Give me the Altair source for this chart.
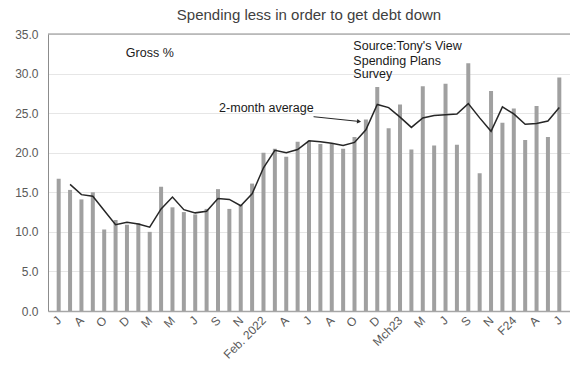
import json
import altair as alt
import pandas as pd

# ---- data ----
x_labels = ["J", "A", "O", "D", "M", "M", "J", "S", "N", "Feb. 2022", "A", "J",
            "A", "O", "D", "Mch23", "M", "J", "S", "N", "F24", "A", "J"]

gross = [16.7, 15.3, 14.1, 15.0, 10.3, 11.5, 10.9, 11.1, 10.0, 15.7,
         13.1, 12.5, 12.2, 12.9, 15.4, 12.9, 13.4, 16.1, 20.0, 20.5,
         19.5, 21.4, 21.5, 21.1, 21.2, 20.5, 22.0, 24.2, 28.3, 23.1,
         26.1, 20.4, 28.4, 20.9, 28.7, 21.0, 31.3, 17.4, 27.8, 23.8,
         25.6, 21.6, 25.9, 22.0, 29.5]

avg2 = [16.0, 14.7, 14.5, 12.7, 10.9, 11.2, 11.0, 10.6, 12.9, 14.4,
        12.8, 12.4, 12.6, 14.2, 14.1, 13.3, 14.8, 18.1, 20.3, 20.0,
        20.4, 21.5, 21.4, 21.2, 20.9, 21.3, 22.9, 26.1, 25.7, 24.5,
        23.2, 24.4, 24.7, 24.8, 24.9, 26.2, 24.4, 22.7, 25.8, 24.9,
        23.6, 23.7, 24.0, 25.7]

y_ticks = [0, 5, 10, 15, 20, 25, 30, 35]

note_text = ["Gross %", "Source:Tony's View", "Spending  Plans", "Survey", "2-month average"]
note_x = [5.9, 25.9, 25.9, 25.9, 14.1]
note_y = [32.6, 33.5, 31.6, 29.9, 25.6]

arrow_x = [22.4, 26.4]
arrow_y = [24.55, 23.95]

# ---- tables ----
bar_df = pd.DataFrame({"i": list(range(len(gross))), "v": gross})
line_df = pd.DataFrame({"i": list(range(1, len(avg2) + 1)), "v": avg2})
note_df = pd.DataFrame({"i": note_x, "v": note_y, "t": note_text})
arrow_df = pd.DataFrame({"i": arrow_x, "v": arrow_y})
head_df = pd.DataFrame({"i": [arrow_x[1]], "v": [arrow_y[1]]})
top_df = pd.DataFrame({"v": [35]})

FONT = "Liberation Sans"
xs = alt.Scale(domain=[-0.5, len(gross) - 0.5], nice=False, zero=False)
ys = alt.Scale(domain=[0, 35], nice=False)

label_expr = json.dumps(x_labels) + "[round(datum.value / 2)]"

x_axis = alt.Axis(values=list(range(0, len(gross), 2)), labelExpr=label_expr,
                  title=None, grid=False, ticks=False, domainColor="#a6a6a6",
                  domainWidth=1.5, labelAngle=-45, labelAlign="right",
                  labelBaseline="middle", labelFontSize=12, labelColor="#595959",
                  labelPadding=7, labelFont=FONT, labelOverlap=False)
y_axis = alt.Axis(values=y_ticks, format=".1f", title=None, ticks=False,
                  gridColor="#e6e6e6", domainColor="#8c8c8c", labelPadding=10,
                  labelFontSize=12, labelColor="#595959", labelFont=FONT,
                  labelOverlap=False)

X = lambda: alt.X("i:Q", scale=xs, axis=x_axis)
Y = lambda: alt.Y("v:Q", scale=ys, axis=y_axis)

bars = alt.Chart(bar_df).mark_bar(size=4, color="#a0a0a0").encode(x=X(), y=Y())

line = alt.Chart(line_df).mark_line(color="#262626", strokeWidth=1.5).encode(x=X(), y=Y())

top_rule = alt.Chart(top_df).mark_rule(color="#8c8c8c", strokeWidth=1).encode(y=Y())

notes = alt.Chart(note_df).mark_text(align="left", baseline="middle", font=FONT,
                                     fontSize=12.5, color="#1a1a1a").encode(
    x=X(), y=Y(), text="t:N"
)

arrow = alt.Chart(arrow_df).mark_line(color="#262626", strokeWidth=1).encode(x=X(), y=Y())
head = alt.Chart(head_df).mark_point(shape="triangle-right", filled=True, angle=6,
                                     size=22, color="#262626", opacity=1).encode(x=X(), y=Y())

chart = alt.layer(bars, top_rule, line, arrow, head, notes).properties(
    width=522, height=277,
    padding={"left": 48, "top": 34, "right": 0, "bottom": 58},
    autosize="none",
    title=alt.TitleParams("Spending less in order to get debt down", fontSize=15,
                          fontWeight="normal", color="#404040", font=FONT,
                          offset=5, anchor="middle"),
).configure_view(stroke=None).configure_axis(labelOverlap=False)

chart.save("out.html", embed_options={"renderer": "svg", "actions": False})
